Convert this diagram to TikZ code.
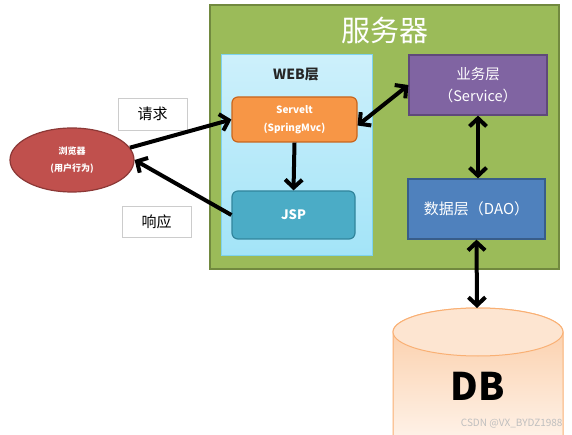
\documentclass[tikz,border=0pt]{standalone}
\usepackage{fontspec}
\setmainfont{Noto Sans CJK SC}
\usetikzlibrary{arrows.meta,shapes.geometric}
\definecolor{grn}{HTML}{9BBB59}
\definecolor{grnd}{HTML}{71893F}
\definecolor{orng}{HTML}{F79646}
\definecolor{orngd}{HTML}{C8661E}
\definecolor{purp}{HTML}{8064A2}
\definecolor{purpd}{HTML}{5F497A}
\definecolor{blu}{HTML}{4F81BD}
\definecolor{blud}{HTML}{385D8A}
\definecolor{teal}{HTML}{4BACC6}
\definecolor{teald}{HTML}{31859C}
\definecolor{redd}{HTML}{C0504D}
\definecolor{reddd}{HTML}{8C3836}
\definecolor{webtop}{HTML}{CDF0FB}
\definecolor{webbot}{HTML}{A3E4F8}
\definecolor{webline}{HTML}{7ED3EE}
\begin{document}
\begin{tikzpicture}[x=1pt,y=-1pt,
  box/.style={draw,line width=1.2pt,minimum width=#1,inner sep=0pt,align=center,text=white},
  rbox/.style={box=#1,rounded corners=6pt},
  lbl/.style={draw=gray!40,line width=0.8pt,fill=white,inner sep=0pt,font=\fontsize{15}{18}\selectfont},
  tip/.style={Straight Barb[length=8pt,width=17pt]},
  conn/.style={line width=4pt,{Straight Barb[length=8pt,width=17pt]}-{Straight Barb[length=8pt,width=17pt]}},
  conn1/.style={line width=4pt,-{Straight Barb[length=8pt,width=17pt]}}]
\useasboundingbox (0,0) rectangle (572,435);
\clip (0,0) rectangle (572,435);
% server
\node[draw=grnd,fill=grn,line width=1.5pt,minimum width=349pt,minimum height=264pt,inner sep=0pt] (server) at (384.5,137) {};
\node[text=white,font=\fontsize{29}{32}\selectfont] (servertitle) at (385,30) {服务器};
% web layer
\node[draw=webline,line width=1pt,top color=webtop,bottom color=webbot,minimum width=151pt,minimum height=201pt,inner sep=0pt] (web) at (296.5,155.5) {};
\node[font=\fontsize{14}{16}\selectfont\bfseries,text=black!85] (webtitle) at (296,75) {WEB层};
\node[rbox=125pt,minimum height=45pt,fill=orng,draw=orngd,font=\fontsize{10}{18}\selectfont\bfseries] (servelt) at (294.5,119.5) {Servelt\\(SpringMvc)};
\node[rbox=123pt,minimum height=48pt,fill=teal,draw=teald,font=\fontsize{13}{15}\selectfont\bfseries] (jsp) at (293.5,215) {JSP};
\node[box=138pt,minimum height=60pt,fill=purp,draw=purpd,font=\fontsize{14.5}{22}\selectfont] (service) at (478,85) {业务层\\（Service）};
\node[box=137pt,minimum height=60pt,fill=blu,draw=blud,font=\fontsize{15}{18}\selectfont] (dao) at (476.5,209) {数据层（DAO）};
% browser
\node[ellipse,draw=reddd,fill=redd,line width=1.2pt,minimum width=124pt,minimum height=64pt,inner sep=0pt,text=white,align=center,font=\fontsize{9}{17}\selectfont\bfseries] (browser) at (72,160) {浏览器\\(用户行为)};
% labels
\node[lbl,minimum width=69pt,minimum height=32pt] (req) at (152.5,114) {请求};
\node[lbl,minimum width=69pt,minimum height=31pt] (resp) at (156.5,221.5) {响应};
% DB cylinder
\path[draw=orng!75,line width=1pt,top color=orng!50,bottom color=orng!12] (393,332) -- (393,440) -- (563,440) -- (563,332) arc[start angle=0,end angle=180,x radius=85pt,y radius=24pt] -- cycle;
\path[draw=orng!75,line width=1pt,fill=orng!25] (478,332) ellipse[x radius=85pt,y radius=24pt];
\coordinate (dbtop) at (477,308);
\node[font=\fontsize{38}{40}\selectfont\bfseries,text=black] (db) at (478,386) {DB};
\node[font=\fontsize{10}{12}\selectfont,text=gray!50,anchor=east] (wm) at (566,424) {CSDN @VX\_BYDZ1988};
% connectors
\draw[conn1] (browser.12) -- (servelt.west);
\draw[conn1] (jsp.west) -- (browser.east);
\draw[conn1] (servelt.south) -- (jsp.north);
\draw[conn] ([yshift=-6pt]servelt.east) -- (service.west);
\draw[conn] (service.south) -- ([xshift=1.5pt]dao.north);
\draw[conn] (dao.south) -- (dbtop);
\end{tikzpicture}
\end{document}
